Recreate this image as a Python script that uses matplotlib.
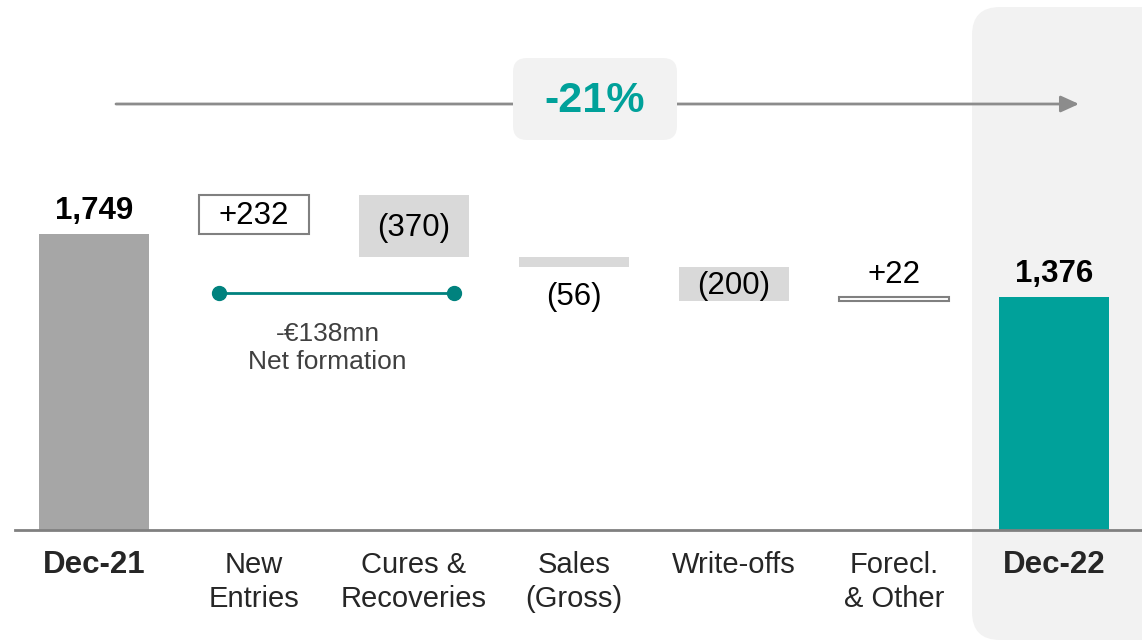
import matplotlib.pyplot as plt
from matplotlib.patches import FancyBboxPatch

# data
categories = ["Dec-21", "New\nEntries", "Cures &\nRecoveries", "Sales\n(Gross)",
              "Write-offs", "Forecl.\n& Other", "Dec-22"]
start_value = 1749
changes = [232, -370, -56, -200, 22]
end_value = 1376
value_labels = ["1,749", "+232", "(370)", "(56)", "(200)", "+22", "1,376"]
net_formation = "-€138mn\nNet formation"
total_change = "-21%"

plt.rcParams["font.family"] = ["Liberation Sans", "DejaVu Sans"]

TEAL = "#00A19A"
DARK_TEAL = "#00827E"
GREY_BAR = "#A6A6A6"
LIGHT = "#D9D9D9"
EDGE = "#808080"
PANEL = "#F2F2F2"
FS = 22.5

W, H = 1142, 644
fig = plt.figure(figsize=(W / 100, H / 100), dpi=100)

# background layer in pixel coordinates
bg = fig.add_axes([0, 0, 1, 1], zorder=0)
bg.set_xlim(0, W)
bg.set_ylim(H, 0)
bg.axis("off")
bg.add_patch(FancyBboxPatch((972, 7), 220, 633, boxstyle="round,pad=0,rounding_size=28",
                            fc=PANEL, ec="none"))
bg.annotate("", xy=(1079, 104), xytext=(116, 104),
            arrowprops=dict(arrowstyle="-|>,head_length=1.1,head_width=0.5",
                            color="#8C8C8C", lw=2, shrinkA=0, shrinkB=0))
bg.add_patch(FancyBboxPatch((513, 58), 164, 82, boxstyle="round,pad=0,rounding_size=14",
                            fc=PANEL, ec="none", zorder=3))
bg.text(595, 101, total_change, ha="center", va="center", fontsize=31,
        fontweight="bold", color=TEAL, zorder=4)

# chart layer in data coordinates
ax = fig.add_axes([0, 0, 1, 1], zorder=1)
ax.patch.set_visible(False)
px_per_unit = 0.1692
ax.set_xlim(-94 / 160, (W - 94) / 160)
ax.set_ylim(-(H - 530) / px_per_unit, 530 / px_per_unit)
ax.axis("off")

x = list(range(len(categories)))
bw = 110 / 160

# totals
ax.bar(x[0], start_value, width=bw, color=GREY_BAR)
ax.bar(x[-1], end_value, width=bw, color=TEAL)
ax.text(x[0], start_value + 50, value_labels[0], ha="center", va="bottom",
        fontsize=FS, fontweight="bold")
ax.text(x[-1], end_value + 50, value_labels[-1], ha="center", va="bottom",
        fontsize=FS, fontweight="bold")

# steps
level = start_value
for i, d in enumerate(changes, start=1):
    bottom = min(level, level + d)
    h = abs(d)
    if d > 0:
        ax.bar(x[i], h, bottom=bottom, width=bw, color="white", edgecolor=EDGE, lw=1.5)
    else:
        ax.bar(x[i], h, bottom=bottom, width=bw, color=LIGHT)
    if h * px_per_unit > 25:
        ax.text(x[i], bottom + h / 2 - 12, value_labels[i], ha="center", va="center",
                fontsize=FS)
    elif d < 0:
        ax.text(x[i], bottom - 90, value_labels[i], ha="center", va="top", fontsize=FS)
    else:
        ax.text(x[i], bottom + h + 40, value_labels[i], ha="center", va="bottom", fontsize=FS)
    level += d

# baseline
ax.axhline(0, xmin=15 / W, xmax=1, color=EDGE, lw=2)

# net formation bracket
y_net = 1400
ax.plot([x[1] - 0.22, x[2] + 0.25], [y_net, y_net], color=DARK_TEAL, lw=2,
        marker="o", markersize=10)
ax.text(1.46, y_net - 170, net_formation, ha="center", va="top", fontsize=19,
        color="#404040", linespacing=1.22)

# category labels
for i, c in enumerate(categories):
    if i in (0, len(categories) - 1):
        ax.text(x[i], -118, c, ha="center", va="top", fontsize=FS,
                fontweight="bold", color="#262626")
    else:
        ax.text(x[i], -124, c, ha="center", va="top", fontsize=21,
                color="#262626", linespacing=1.28)

fig.savefig("out.png", dpi=100)
